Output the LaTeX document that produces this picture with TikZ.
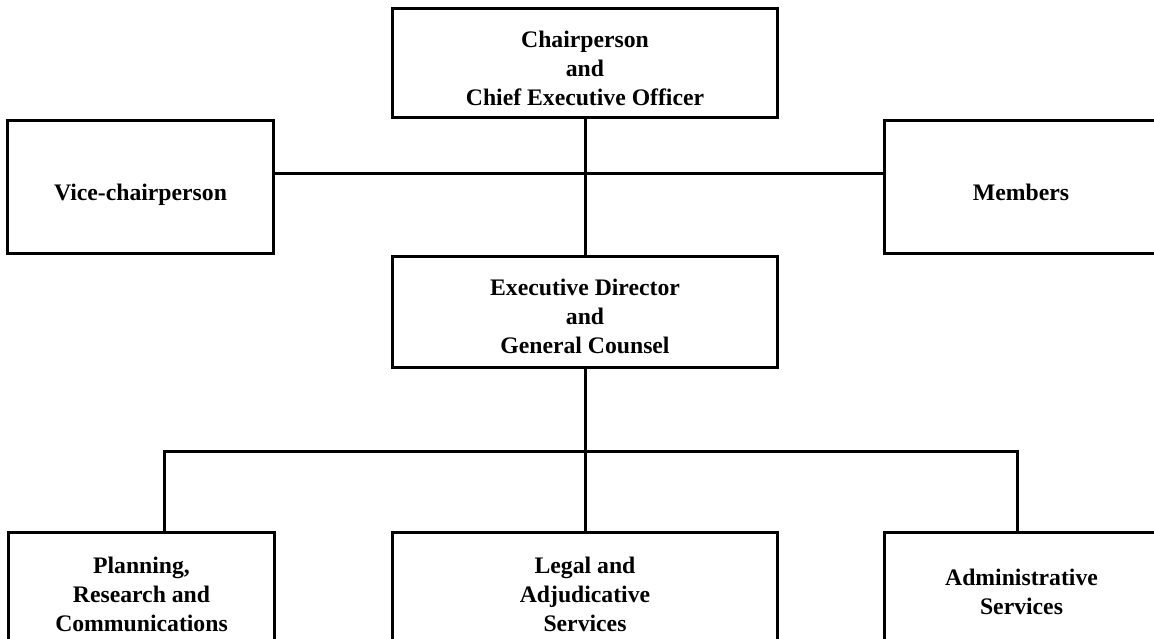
\documentclass[tikz,border=0pt]{standalone}
\usepackage{fontspec}
\setmainfont{Liberation Serif}
\usetikzlibrary{positioning}

\begin{document}
\begin{tikzpicture}[x=1pt, y=-1pt, unit/.style={rectangle, draw=black, line width=3pt, inner sep=0pt}, wide/.style={unit, minimum width=385pt}, side/.style={unit, minimum width=266pt}, caption/.style={align=center, inner sep=0pt, font=\fontsize{23.7pt}{29pt}\selectfont\bfseries}, link/.style={draw=black, line width=3pt}, node distance=2cm]

\useasboundingbox (0,0) rectangle (1154,638);
\clip (0,0) rectangle (1154,638);

% Chairperson
\node[wide, minimum height=109pt, label={[caption, yshift=-5.5pt]center:{Chairperson\\and\\Chief Executive Officer}}] (chair) at (585,62.5) {};

% Vice-chairperson and Members
\node[side, minimum height=133pt, label={[caption, yshift=-8pt]center:Vice-chairperson}] (vice) at (140.5,186.5) {};
\node[side, minimum width=274pt, minimum height=133pt, label={[caption, yshift=-5.5pt]center:Members}] (members) at (1021,186.5) {};

% Executive Director
\node[wide, minimum height=111pt, below=136pt of chair, label={[caption, yshift=-4.5pt]center:{Executive Director\\and\\General Counsel}}] (exec) {};

% Branches
\node[wide, minimum height=130pt, below=162pt of exec, label={[caption, yshift=3pt]center:{Legal and\\Adjudicative\\Services}}] (legal) {};
\node[side, minimum height=130pt, left=115pt of legal, label={[caption, yshift=3pt]center:{Planning,\\Research and\\Communications}}] (plan) {};
\node[side, minimum width=274pt, minimum height=130pt, right=104pt of legal, label={[caption, yshift=5.5pt]center:{Administrative\\Services}}] (admin) {};

\coordinate (hub) at (585,173);
\coordinate (busL) at (164,451);
\coordinate (busR) at (1017,451);

% Lines
\draw[link] (chair) -- (exec);
\draw[link] (vice.east |- hub) -- (members.west |- hub);
\draw[link] (exec) -- (legal);
\draw[link] (plan.north -| busL) -- (busL) -- (busR) -- (admin.north -| busR);

\end{tikzpicture}
\end{document}
